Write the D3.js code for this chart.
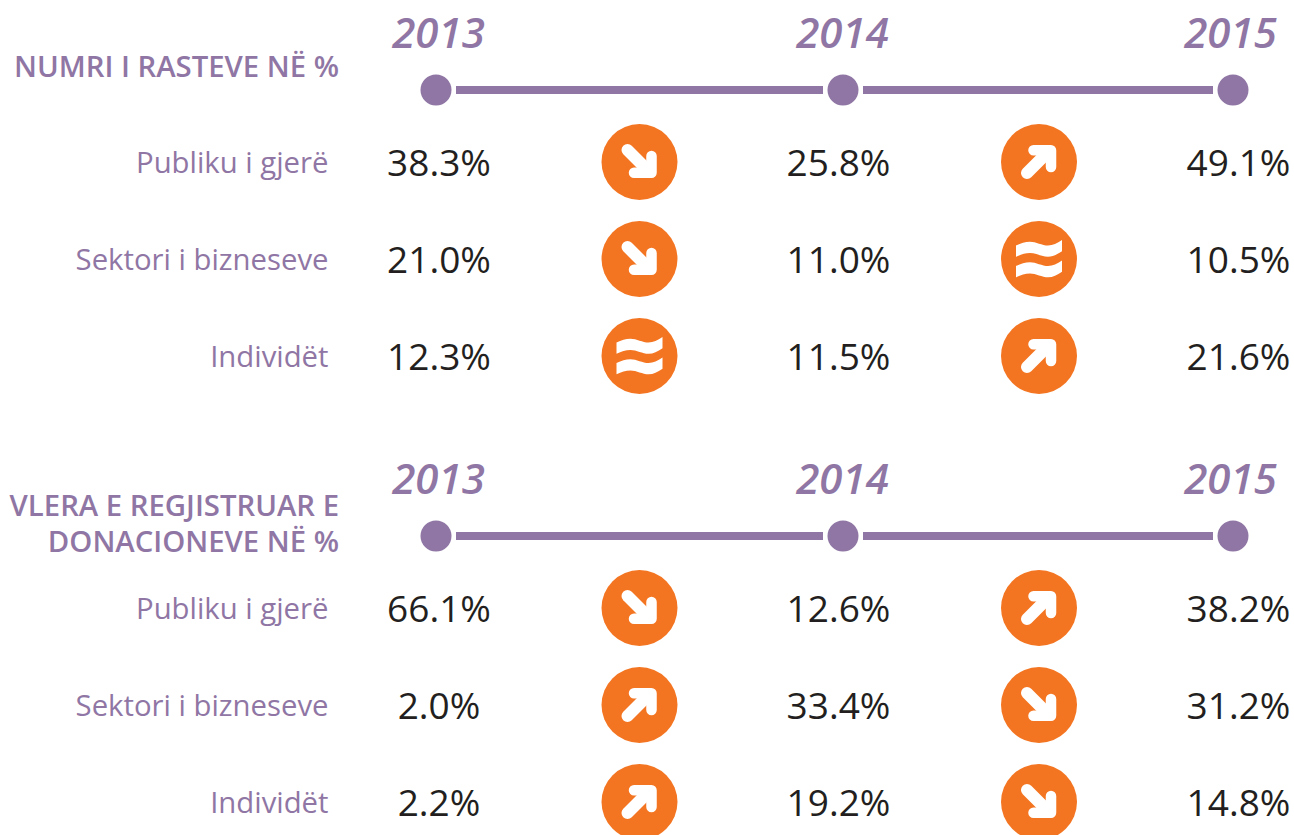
<!DOCTYPE html>
<html>
<head>
<meta charset="utf-8">
<script src="https://cdn.jsdelivr.net/npm/d3@7"></script>
<style>
  html, body { margin: 0; padding: 0; background: #fff; }
  svg { display: block; }
  text { font-family: "Open Sans", sans-serif; }
</style>
</head>
<body>
<div id="chart"></div>
<script>
const years = ['2013', '2014', '2015'];
const categories = ['Publiku i gjerë', 'Sektori i bizneseve', 'Individët'];

const casesTitle = ['NUMRI I RASTEVE NË %'];
const casesValues = [
  [38.3, 25.8, 49.1],
  [21.0, 11.0, 10.5],
  [12.3, 11.5, 21.6]
];
const casesTrend = [
  ['down', 'up'],
  ['down', 'same'],
  ['same', 'up']
];

const donationsTitle = ['VLERA E REGJISTRUAR E', 'DONACIONEVE NË %'];
const donationsValues = [
  [66.1, 12.6, 38.2],
  [2.0, 33.4, 31.2],
  [2.2, 19.2, 14.8]
];
const donationsTrend = [
  ['down', 'up'],
  ['up', 'down'],
  ['up', 'down']
];

const purple = '#8f76a4';
const orange = '#f47521';
const ink = '#231f20';

const width = 1294, height = 835;

const svg = d3.select('#chart')
  .append('svg')
  .attr('width', width)
  .attr('height', height);

// timeline dots, value columns and arrow columns don't quite line up in the original
const xDot = d3.scaleOrdinal().domain(years).range([436, 843, 1233]);
const xYear = d3.scaleOrdinal().domain(years).range([438.5, 842.5, 1230.5]);
const xValue = d3.scaleOrdinal().domain(years).range([439, 838.5, 1238.5]);
const xArrow = d3.scaleOrdinal().domain([0, 1]).range([639.5, 1039]);
const yRow = d3.scalePoint().domain(categories).range([0, 194]);

const wavePath = 'M-23,-13.5C-18,-15.8 -14,-17.3 -9,-17.3C-3,-17.3 3,-13.5 9,-13.5C14,-13.5 18,-16 23,-19'
  + 'V-7.8C18,-4.8 14,-2.2 9,-2.2C3,-2.2 -3,-6 -9,-6C-14,-6 -18,-4.5 -23,-2.2Z';

function drawIcon (g, trend) {
  g.append('circle')
    .attr('r', 38)
    .attr('fill', orange);

  if (trend === 'same') {
    [0, 20.5].forEach((dy) => {
      g.append('path')
        .attr('d', wavePath)
        .attr('transform', `translate(0,${dy})`)
        .attr('fill', '#fff');
    });
    return;
  }

  const arrow = g.append('g')
    .attr('transform', trend === 'down' ? 'translate(0,0)' : 'translate(0,-1) scale(1,-1)');

  arrow.append('path')
    .attr('d', 'M-12,-12L9,9')
    .attr('stroke', '#fff')
    .attr('stroke-width', 12)
    .attr('stroke-linecap', 'round');

  arrow.append('path')
    .attr('d', 'M12,-6V10.7H-5.5')
    .attr('fill', 'none')
    .attr('stroke', '#fff')
    .attr('stroke-width', 10.5)
    .attr('stroke-linecap', 'round')
    .attr('stroke-linejoin', 'round');
}

function drawPanel (top, titleLines, values, trends, titleY) {
  const panel = svg.append('g').attr('transform', `translate(0,${top})`);

  // heading on the left, one text with a tspan per line
  panel.append('text')
    .attr('class', 'title')
    .attr('y', titleY)
    .attr('text-anchor', 'end')
    .attr('font-size', 29.3)
    .attr('font-weight', 600)
    .attr('fill', purple)
    .selectAll('tspan')
    .data(titleLines)
    .enter()
    .append('tspan')
    .attr('x', 339)
    .attr('dy', (d, i) => (i ? 36 : 0))
    .text(d => d);

  // timeline
  panel.selectAll('text.year')
    .data(years)
    .enter()
    .append('text')
    .attr('class', 'year')
    .attr('x', d => xYear(d))
    .attr('y', 48)
    .attr('text-anchor', 'middle')
    .attr('font-size', 42)
    .attr('font-weight', 600)
    .attr('font-style', 'italic')
    .attr('fill', purple)
    .text(d => d);

  panel.selectAll('line.link')
    .data(d3.pairs(years))
    .enter()
    .append('line')
    .attr('class', 'link')
    .attr('x1', d => xDot(d[0]) + 20)
    .attr('x2', d => xDot(d[1]) - 20)
    .attr('y1', 90)
    .attr('y2', 90)
    .attr('stroke', purple)
    .attr('stroke-width', 8);

  panel.selectAll('circle.dot')
    .data(years)
    .enter()
    .append('circle')
    .attr('class', 'dot')
    .attr('cx', d => xDot(d))
    .attr('cy', 90)
    .attr('r', 15.5)
    .attr('fill', purple);

  // rows
  const rows = panel.selectAll('g.row')
    .data(categories)
    .enter()
    .append('g')
    .attr('class', 'row')
    .attr('transform', d => `translate(0,${162 + yRow(d)})`);

  rows.append('text')
    .attr('x', 328.5)
    .attr('y', 11)
    .attr('text-anchor', 'end')
    .attr('font-size', 29.3)
    .attr('fill', purple)
    .text(d => d);

  rows.each(function (d, r) {
    const row = d3.select(this);

    years.forEach((year, c) => {
      row.append('text')
        .attr('x', xValue(year))
        .attr('y', 14)
        .attr('text-anchor', 'middle')
        .attr('font-size', 37)
        .attr('fill', ink)
        .text(values[r][c].toFixed(1) + '%');
    });

    trends[r].forEach((trend, c) => {
      const g = row.append('g').attr('transform', `translate(${xArrow(c)},0)`);
      drawIcon(g, trend);
    });
  });
}

drawPanel(0, casesTitle, casesValues, casesTrend, 77);
drawPanel(446, donationsTitle, donationsValues, donationsTrend, 69.5);
</script>
</body>
</html>
